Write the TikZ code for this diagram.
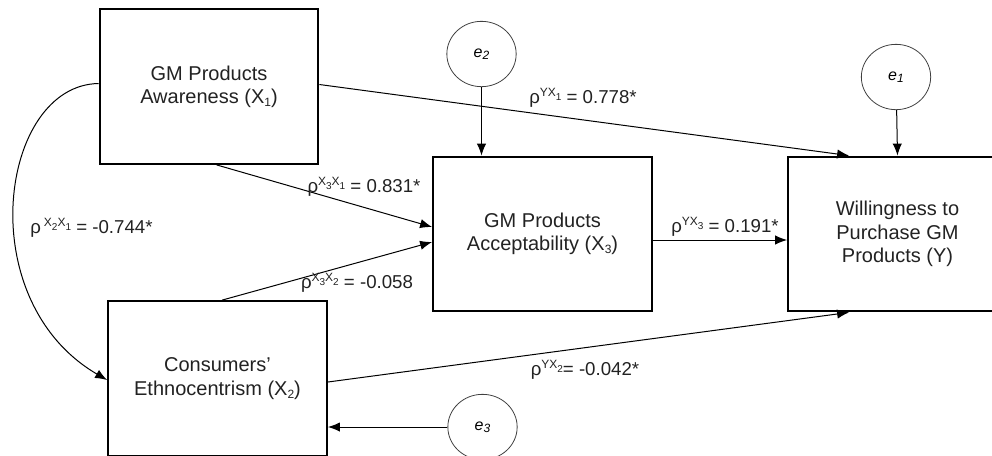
\documentclass[tikz,border=0pt]{standalone}
\usepackage{fontspec}
\setmainfont{Liberation Sans}
\usetikzlibrary{arrows.meta,calc,shapes.geometric}

\definecolor{PathText}{HTML}{222222}
\definecolor{ErrorLine}{HTML}{404040}
\tikzstyle{var-box}=[draw, line width=1.6pt, minimum width=164pt, minimum height=116pt, align=center, text=PathText, font=\fontsize{15}{17.5}\selectfont]
\tikzstyle{err-circle}=[draw=ErrorLine, ellipse, line width=0.6pt, minimum width=52pt, minimum height=49pt, inner sep=0pt, font=\fontsize{12}{14}\selectfont\itshape]
\tikzstyle{path-arrow}=[line width=0.75pt, -{Latex[length=9pt,width=7pt]}]
\tikzstyle{coef}=[text=PathText, inner sep=0pt, font=\fontsize{14}{16}\selectfont]
% small indices
\newcommand{\idx}[1]{\raisebox{-0.15em}{\fontsize{9}{10}\selectfont #1}}
\newcommand{\lowidx}[1]{\raisebox{-0.3em}{\fontsize{7.5}{8}\selectfont #1}}
\newcommand{\highidx}[1]{\raisebox{0.38em}{\fontsize{9}{10}\selectfont #1}}
\newcommand{\coefsup}[1]{ρ\highidx{#1}}

\begin{document}
\begin{tikzpicture}[x=0.75pt, y=-0.75pt]
  \useasboundingbox (0,0) rectangle (992,455);
  \clip (0,0) rectangle (992,455);

  % variables
  \node (varaware) at (209,86.5) [var-box] {GM Products\\Awareness (X\idx{1})};
  \node (varaccept) at (542.5,234) [var-box] {GM Products\\Acceptability (X\idx{3})};
  \node (varwilling) at (897.5,234) [var-box] {Willingness to\\Purchase GM\\Products (Y)};
  \node (varethno) at (217.5,378.5) [var-box] {Consumers’\\Ethnocentrism (X\idx{2})};

  % error terms
  \node (errone) at (896,77) [err-circle] {e\idx{1}};
  \node (errtwo) at (481.5,54) [err-circle] {e\idx{2}};
  \node (errthree) at (482.5,427) [err-circle] {e\idx{3}};

  % paths
  \draw [path-arrow] ($(varaware.east)+(0,-2)$) -- ($(varwilling.north west)+(62,0)$);
  \draw [path-arrow] ($(varaware.south west)+(118,0)$) -- ($(varaccept.west)+(0,-7)$);
  \draw [path-arrow] ($(varethno.north west)+(115,0)$) -- ($(varaccept.west)+(0,8)$);
  \draw [path-arrow] ($(varaccept.east)+(0,6)$) -- ($(varwilling.west)+(0,6)$);
  \draw [path-arrow] ($(varethno.east)+(0,3.5)$) -- ($(varwilling.south west)+(62,0)$);
  \draw [path-arrow] ($(varaware.west)+(0,-3)$) .. controls (0,85) and (-30,300) .. ($(varethno.west)+(0,1.5)$);
  \draw [path-arrow] (errtwo) -- (errtwo |- varaccept.north);
  \draw [path-arrow] (errone) -- (varwilling.north);
  \draw [path-arrow] (errthree) -- (errthree -| varethno.east);

  % coefficients
  \node (coefxtwoxone) at (30,228) [coef, anchor=west] {ρ\,\highidx{X\lowidx{2}X\lowidx{1}} = -0.744*};
  \node (coefxthreexone) at (364,187) [coef] {\coefsup{X\lowidx{3}X\lowidx{1}} = 0.831*};
  \node (coefxthreextwo) at (357,283) [coef] {\coefsup{X\lowidx{3}X\lowidx{2}} = -0.058};
  \node (coefyxthree) at (725,227) [coef] {\coefsup{YX\lowidx{3}} = 0.191*};
  \node (coefyxtwo) at (585,370) [coef] {\coefsup{YX\lowidx{2}}= -0.042*};
  \node (coefyxone) at (583,98) [coef] {\coefsup{YX\lowidx{1}} = 0.778*};
\end{tikzpicture}
\end{document}
